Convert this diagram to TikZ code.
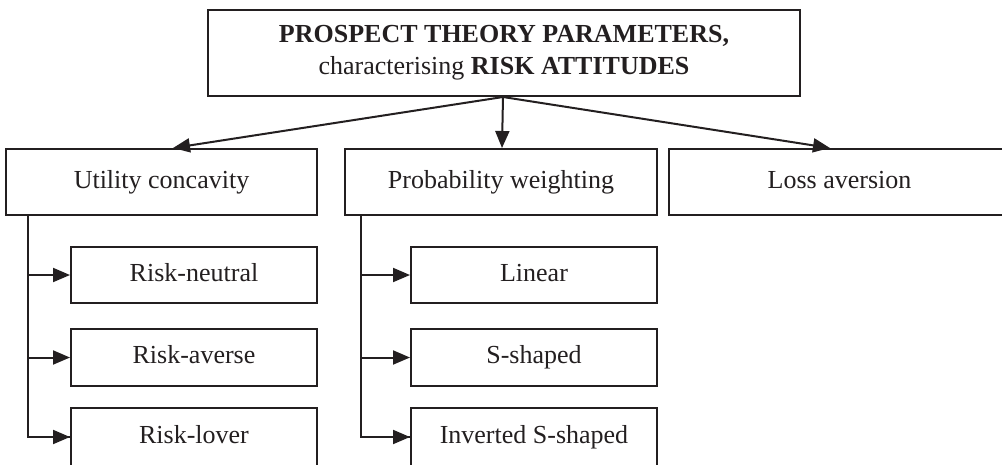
\documentclass[tikz,border=0pt]{standalone}
\usepackage{fontspec}
\setmainfont{Liberation Serif}
\usetikzlibrary{arrows.meta,calc}
\definecolor{ink}{RGB}{35,31,32}
\begin{document}
\begin{tikzpicture}[x=1pt,y=-1pt,
  box/.style={draw=ink,line width=2pt,rectangle,inner sep=0pt,
    font=\fontsize{26}{32}\selectfont,text=ink},
  one/.style={box,text height=18pt,text depth=6pt},
  conn/.style={line width=2pt,draw=ink,
    -{Triangle[length=17pt,width=14pt]}},
  plain/.style={line width=2pt,draw=ink}]
\useasboundingbox (0,0) rectangle (1002,464);
\clip (0,0) rectangle (1002,464);
\node[box,minimum width=592pt,minimum height=86pt,align=center] (top) at (504,53)
  {\textbf{PROSPECT THEORY PARAMETERS,}\\characterising \textbf{RISK ATTITUDES}};
\node[one,minimum width=311pt,minimum height=66pt] (util) at (161.5,182) {Utility concavity};
\node[one,minimum width=312pt,minimum height=66pt] (prob) at (501,182) {Probability weighting};
\node[one,minimum width=341pt,minimum height=66pt] (loss) at (839.5,182) {Loss aversion};
\node[one,minimum width=246pt,minimum height=56pt] (rn) at (194,275) {Risk-neutral};
\node[one,minimum width=246pt,minimum height=57pt] (ra) at (194,357.5) {Risk-averse};
\node[one,minimum width=246pt,minimum height=58pt] (rl) at (194,437) {Risk-lover};
\node[one,minimum width=246pt,minimum height=56pt] (lin) at (534,275) {Linear};
\node[one,minimum width=246pt,minimum height=57pt] (ss) at (534,357.5) {S-shaped};
\node[one,minimum width=246pt,minimum height=58pt] (iss) at (534,437) {Inverted S-shaped};
\coordinate (o) at ([xshift=-1pt]top.south);
\draw[conn] (o) -- ([xshift=11.5pt]util.north);
\draw[conn] (o) -- ([xshift=1pt]prob.north);
\draw[conn] (o) -- ([xshift=-9.5pt]loss.north);
\coordinate (u0) at ([xshift=23pt]util.south west);
\coordinate (p0) at ([xshift=17pt]prob.south west);
\draw[plain] (u0) |- (rl.west);
\draw[plain] (p0) |- (iss.west);
\draw[conn] (u0 |- rn.west) -- (rn.west);
\draw[conn] (u0 |- ra.west) -- (ra.west);
\draw[conn] (u0 |- rl.west) -- (rl.west);
\draw[conn] (p0 |- lin.west) -- (lin.west);
\draw[conn] (p0 |- ss.west) -- (ss.west);
\draw[conn] (p0 |- iss.west) -- (iss.west);
\end{tikzpicture}
\end{document}
